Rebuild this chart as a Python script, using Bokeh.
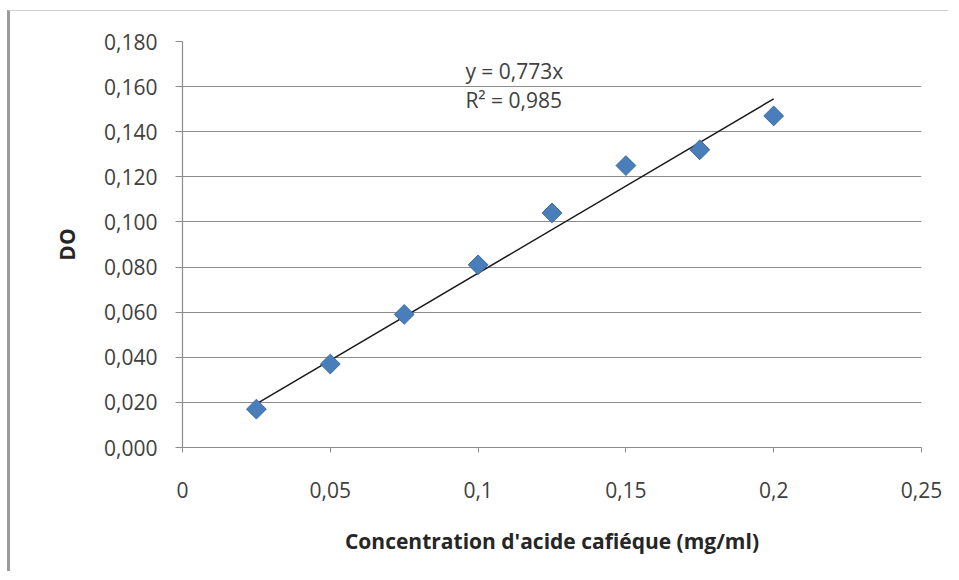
import math
from bokeh.plotting import figure
from bokeh.models import CustomJSTickFormatter, FixedTicker, Range1d, ColumnDataSource
from bokeh.core.properties import value
from bokeh.embed import file_html
from bokeh.resources import INLINE

conc = [0.025, 0.05, 0.075, 0.1, 0.125, 0.15, 0.175, 0.2]
do_vals = [0.017, 0.037, 0.059, 0.081, 0.104, 0.125, 0.132, 0.147]
slope = 0.773
r2 = 0.985
y_ticks = [0.0, 0.02, 0.04, 0.06, 0.08, 0.10, 0.12, 0.14, 0.16, 0.18]
x_ticks = [0.0, 0.05, 0.10, 0.15, 0.20, 0.25]
eq_labels = ["y = 0,773x", "R² = 0,985"]

FONT = "Open Sans"

p = figure(width=941, height=561, output_backend="svg", toolbar_location=None,
           x_range=Range1d(0, 0.25), y_range=Range1d(0, 0.18),
           min_border_left=172, min_border_right=30, min_border_top=30, min_border_bottom=125)
p.styles = {"margin-left": "7px", "margin-top": "10px",
            "border-left": "3px solid #9a9a9a", "border-top": "1px solid #d0d0d0"}
p.outline_line_color = None
p.background_fill_color = "white"
p.border_fill_color = "white"

p.xgrid.grid_line_color = None
p.ygrid.grid_line_color = "#8c8c8c"
p.ygrid.grid_line_width = 1.2
p.ygrid.ticker = FixedTicker(ticks=y_ticks)

p.yaxis.ticker = FixedTicker(ticks=y_ticks)
p.xaxis.ticker = FixedTicker(ticks=x_ticks)
p.yaxis.formatter = CustomJSTickFormatter(code="return tick.toFixed(3).replace('.', ',');")
p.xaxis.formatter = CustomJSTickFormatter(code="return String(Number(tick.toFixed(3))).replace('.', ',');")

for ax in (p.xaxis, p.yaxis):
    ax.axis_line_color = "#8c8c8c"
    ax.axis_line_width = 1.2
    ax.major_tick_line_color = "#8c8c8c"
    ax.minor_tick_line_color = None
    ax.major_tick_in = 0
    ax.major_label_text_font = FONT
    ax.major_label_text_font_size = "21px"
    ax.major_label_text_color = "#404040"
    ax.axis_label_text_font = FONT
    ax.axis_label_text_font_size = "21px"
    ax.axis_label_text_font_style = "bold"
    ax.axis_label_text_color = "#262626"

p.yaxis.major_tick_out = 7
p.xaxis.major_tick_out = 5
p.yaxis.major_label_standoff = 18
p.xaxis.major_label_standoff = 29
p.yaxis.axis_label = "DO"
p.xaxis.axis_label = "Concentration d'acide cafiéque (mg/ml)"
p.yaxis.axis_label_standoff = 20
p.xaxis.axis_label_standoff = 26

# trendline
tx = [conc[0], conc[-1]]
ty = [slope * v for v in tx]
p.line(tx, ty, line_color="#1a1a1a", line_width=1.5)

src = ColumnDataSource(dict(x=conc, y=do_vals))
p.scatter("x", "y", source=src, marker="square", size=14, angle=math.pi / 4,
          fill_color="#4a7ebb", line_color="#3d6ca3", line_width=1)

p.text(x=[0.0957, 0.0957], y=[0.1730, 0.1603], text=eq_labels,
       text_font=value(FONT), text_font_size="21px", text_color="#404040",
       text_baseline="top", text_align="left")

open("out.html", "w").write(file_html(p, INLINE))
